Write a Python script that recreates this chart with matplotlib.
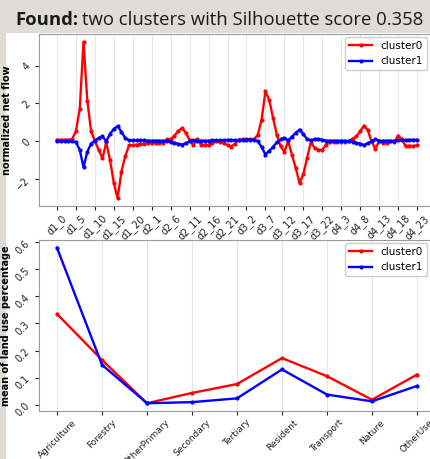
import matplotlib
matplotlib.use("Agg")
import matplotlib.pyplot as plt
from matplotlib.patches import Rectangle

# hourly slots, 4 days x 24 hours
slots = ["d%d_%d" % (d, h) for d in range(1, 5) for h in range(24)]

flow_c0 = [0.08, 0.08, 0.08, 0.08, 0.1, 0.55, 1.7, 5.25, 2.15, 0.53, 0.02, -0.45,
           -0.9, -0.05, -1.0, -2.2, -3.0, -1.6, -0.8, -0.22, -0.2, -0.18, -0.15, -0.12,
           -0.1, -0.1, -0.08, -0.08, -0.08, 0.1, 0.12, 0.3, 0.55, 0.7, 0.45, 0.05,
           -0.2, 0.12, -0.17, -0.2, -0.18, -0.1, 0.0, -0.05, -0.1, -0.2, -0.28, -0.12,
           0.08, 0.1, 0.1, 0.1, 0.1, 0.35, 1.15, 2.63, 2.2, 1.25, 0.35, -0.26,
           -0.55, 0.0, -0.7, -1.4, -2.2, -1.75, -0.88, -0.05, -0.35, -0.45, -0.45, -0.18,
           -0.02, -0.02, -0.02, -0.02, -0.02, 0.02, 0.14, 0.26, 0.53, 0.82, 0.6, 0.0,
           -0.4, 0.0, -0.09, -0.09, 0.0, -0.05, 0.3, 0.12, -0.26, -0.23, -0.26, -0.2]
flow_c1 = [0.0, 0.0, 0.0, 0.0, 0.0, -0.05, -0.45, -1.37, -0.55, -0.12, 0.04, 0.18,
           0.26, 0.0, 0.4, 0.65, 0.8, 0.5, 0.18, 0.05, 0.05, 0.05, 0.05, 0.05,
           0.03, 0.03, 0.03, 0.03, 0.03, 0.02, -0.02, -0.08, -0.13, -0.17, -0.1, 0.0,
           0.05, 0.03, 0.03, 0.03, 0.03, 0.05, 0.05, 0.05, 0.05, 0.07, 0.07, 0.05,
           0.05, 0.07, 0.09, 0.09, 0.08, 0.0, -0.3, -0.7, -0.5, -0.3, -0.05, 0.1,
           0.18, 0.05, 0.25, 0.45, 0.62, 0.38, 0.12, 0.05, 0.12, 0.12, 0.08, 0.03,
           0.03, 0.03, 0.03, 0.03, 0.03, 0.0, -0.03, -0.08, -0.12, -0.2, -0.1, 0.0,
           0.12, 0.03, 0.03, 0.03, 0.02, 0.03, 0.05, 0.05, 0.07, 0.08, 0.08, 0.08]

landuse = ["Agriculture", "Forestry", "OtherPrimary", "Secondary", "Tertiary",
           "Resident", "Transport", "Nature", "OtherUse"]
land_c0 = [0.335, 0.165, 0.005, 0.043, 0.076, 0.172, 0.105, 0.018, 0.111]
land_c1 = [0.58, 0.147, 0.005, 0.009, 0.023, 0.130, 0.037, 0.012, 0.069]

bg = "#dfdcd7"
fig = plt.figure(figsize=(4.3, 4.59), dpi=100, facecolor=bg)
fig.patches.append(Rectangle((6 / 430, 0), 1, 1 - 33 / 459, transform=fig.transFigure,
                             facecolor="white", edgecolor="none", zorder=-10))

ax1 = fig.add_axes([39 / 430, 1 - 206 / 459, 396 / 430, 172 / 459])
ax2 = fig.add_axes([39 / 430, 1 - 411 / 459, 396 / 430, 171 / 459])

x = list(range(len(slots)))
ax1.plot(x, flow_c0, color="red", lw=1.7, marker=".", ms=4, label="cluster0")
ax1.plot(x, flow_c1, color="blue", lw=1.7, marker=".", ms=4, label="cluster1")
ax1.set_xticks(x[::5])
ax1.set_xticklabels(slots[::5], rotation=45)
ax1.set_yticks([-2, 0, 2, 4])
ax1.set_ylabel("normalized net flow", fontsize=7, fontweight="bold", labelpad=2)

xl = list(range(len(landuse)))
ax2.plot(xl, land_c0, color="red", lw=1.7, marker=".", ms=4, label="cluster0")
ax2.plot(xl, land_c1, color="blue", lw=1.7, marker=".", ms=4, label="cluster1")
ax2.set_xticks(xl)
ax2.set_xticklabels(landuse, rotation=45)
ax2.set_yticks([0.0, 0.1, 0.2, 0.3, 0.4, 0.5, 0.6])
ax2.set_ylabel("mean of land use percentage", fontsize=7, fontweight="bold", labelpad=2)

for ax in (ax1, ax2):
    ax.grid(axis="x", color="#e6e6e6", lw=0.8)
    ax.set_axisbelow(True)
    for s in ax.spines.values():
        s.set_color("#999999")
    ax.tick_params(labelsize=7, colors="#222222", length=3, pad=2)
    ax.tick_params(axis="y", rotation=45)
    ax.legend(loc="upper right", bbox_to_anchor=(390 / 396, 0.995), fontsize=7.5,
              borderaxespad=0.2, handlelength=2.2, framealpha=1)
ax2.tick_params(axis="x", labelsize=6.5)

fig.canvas.draw()
r = fig.canvas.get_renderer()
t = fig.text(15 / 430, 1 - 25 / 459, "Found:", fontsize=13.3, fontweight="bold",
             family="Open Sans", color="#1a1a1a", va="baseline")
bb = t.get_window_extent(renderer=r)
fig.text((bb.x1 + 4) / 430, 1 - 25 / 459, "two clusters with Silhouette score 0.358",
         fontsize=13.3, family="Open Sans", color="#1a1a1a", va="baseline")

fig.savefig("out.png", dpi=100, facecolor=bg)
